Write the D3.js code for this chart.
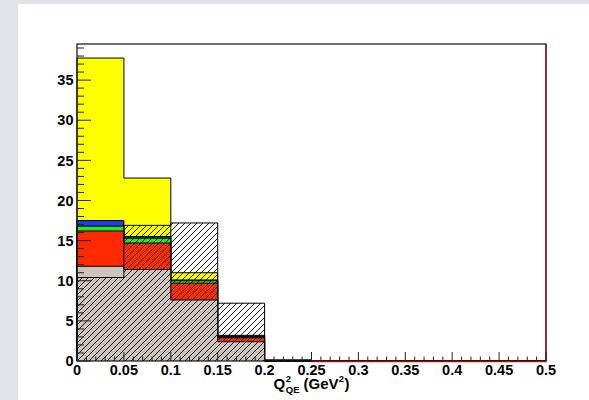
<!DOCTYPE html>
<html>
<head>
<meta charset="utf-8">
<script src="https://cdn.jsdelivr.net/npm/d3@7"></script>
<style>
  html, body { margin: 0; padding: 0; background: #e0e4e8; }
  svg { display: block; }
  text { font-family: "Liberation Sans", Arial, Helvetica, sans-serif; font-weight: bold; }
</style>
</head>
<body>
<svg id="chart" width="589" height="400"></svg>
<script>
// ---- data ----
const binLow   = [0, 0.05, 0.1, 0.15, 0.2, 0.25, 0.3, 0.35, 0.4, 0.45];
const binWidth = 0.05;
// stacked contributions (bottom to top)
const gray    = [11.8, 11.4, 7.6, 2.4, 0, 0, 0, 0, 0, 0];
const red     = [4.4, 3.3, 2.1, 0.5, 0, 0, 0, 0, 0, 0];
const green   = [0.6, 0.6, 0.3, 0.1, 0, 0, 0, 0, 0, 0];
const blue    = [0.7, 0.2, 0.1, 0.1, 0, 0, 0, 0, 0, 0];
const yellow  = [20.25, 7.3, 0.9, 0.1, 0, 0, 0, 0, 0, 0];
// hatched overlay histogram
const hatched = [10.4, 16.9, 17.2, 7.2, 0.15, 0, 0, 0, 0, 0];
// axis ticks
const xTickValues = [0, 0.05, 0.1, 0.15, 0.2, 0.25, 0.3, 0.35, 0.4, 0.45, 0.5];
const xTickLabels = ["0", "0.05", "0.1", "0.15", "0.2", "0.25", "0.3", "0.35", "0.4", "0.45", "0.5"];
const yTickValues = [0, 5, 10, 15, 20, 25, 30, 35];
const yTickLabels = ["0", "5", "10", "15", "20", "25", "30", "35"];

const layers = [
  { name: "gray",   values: gray,   color: "#ccc5bd" },
  { name: "red",    values: red,    color: "#ff2a00" },
  { name: "green",  values: green,  color: "#18f018" },
  { name: "blue",   values: blue,   color: "#1f3cf5" },
  { name: "yellow", values: yellow, color: "#ffff00" }
];

// ---- layout ----
const svg = d3.select("#chart");
svg.append("rect").attr("x", 0).attr("y", 0).attr("width", 589).attr("height", 400).attr("fill", "#e0e4e8");
svg.append("rect").attr("x", 18).attr("y", 4).attr("width", 571).attr("height", 396).attr("fill", "#ffffff");

const x = d3.scaleLinear().domain([0, 0.5]).range([77, 546]);
const y = d3.scaleLinear().domain([0, 39.5]).range([361, 44]);

// hatch pattern
const defs = svg.append("defs");
const hs = 6;
const pat = defs.append("pattern").attr("id", "hatch").attr("patternUnits", "userSpaceOnUse")
  .attr("width", hs).attr("height", hs);
pat.append("path")
  .attr("d", `M0,${hs} L${hs},0 M${-hs/2},${hs/2} L${hs/2},${-hs/2} M${hs/2},${hs*1.5} L${hs*1.5},${hs/2}`)
  .attr("stroke", "#000").attr("stroke-width", 0.9);

function stepPath(vals) {
  let p = `M${x(binLow[0])},${y(0)}`;
  vals.forEach((v, i) => {
    p += ` L${x(binLow[i])},${y(v)} L${x(binLow[i] + binWidth)},${y(v)}`;
  });
  p += ` L${x(binLow[binLow.length - 1] + binWidth)},${y(0)}`;
  return p;
}

// cumulative sums
const cum = [];
let running = binLow.map(() => 0);
layers.forEach(l => {
  running = running.map((r, i) => r + l.values[i]);
  cum.push({ color: l.color, values: running.slice() });
});

const g = svg.append("g");
// draw from the largest cumulative down (THStack style)
cum.slice().reverse().forEach(c => {
  g.append("path").attr("d", stepPath(c.values) + " Z").attr("fill", c.color).attr("stroke", "none");
  g.append("path").attr("d", stepPath(c.values)).attr("fill", "none").attr("stroke", "#000").attr("stroke-width", 1);
});

// hatched overlay
g.append("path").attr("d", stepPath(hatched) + " Z").attr("fill", "url(#hatch)").attr("stroke", "none");
g.append("path").attr("d", stepPath(hatched)).attr("fill", "none").attr("stroke", "#000").attr("stroke-width", 1);

// frame
svg.append("rect").attr("x", x(0)).attr("y", y(39.5)).attr("width", x(0.5) - x(0)).attr("height", y(0) - y(39.5))
  .attr("fill", "none").attr("stroke", "#111").attr("stroke-width", 1.2);

// red outline along bottom and right edge
svg.append("path")
  .attr("d", `M${x(0.25)},${y(0) + 0.5} L${x(0.5)},${y(0) + 0.5} L${x(0.5)},${y(39.5)}`)
  .attr("fill", "none").attr("stroke", "#a01010").attr("stroke-width", 1.3);

// y ticks (inside)
const yMinor = d3.range(0, 40, 1);
svg.append("g").selectAll("line").data(yMinor).join("line")
  .attr("x1", x(0)).attr("x2", d => x(0) + (d % 5 === 0 ? 14 : 7))
  .attr("y1", d => y(d)).attr("y2", d => y(d))
  .attr("stroke", "#222").attr("stroke-width", 1);
svg.append("g").selectAll("text").data(yTickValues).join("text")
  .attr("x", 73.5).attr("y", d => y(d)).attr("dy", "0.36em")
  .attr("text-anchor", "end").attr("font-size", 14.5).attr("fill", "#000")
  .text((d, i) => yTickLabels[i]);

// x ticks (inside)
const xMinor = d3.range(0, 51).map(i => i / 100);
svg.append("g").selectAll("line").data(xMinor).join("line")
  .attr("x1", d => x(d)).attr("x2", d => x(d))
  .attr("y1", y(0)).attr("y2", (d, i) => y(0) - (i % 5 === 0 ? 9 : 4.5))
  .attr("stroke", "#222").attr("stroke-width", 1);
svg.append("g").selectAll("text").data(xTickValues).join("text")
  .attr("x", d => x(d)).attr("y", 375)
  .attr("text-anchor", "middle").attr("font-size", 14.5).attr("fill", "#000")
  .text((d, i) => xTickLabels[i]);

// x-axis title: Q^2_QE (GeV^2)
const tg = svg.append("g");
const base = 389;
let cx = 0;
const tQ = tg.append("text").attr("x", cx).attr("y", base).attr("font-size", 15).text("Q");
cx += tQ.node().getComputedTextLength() + 0.5;
const tSup = tg.append("text").attr("x", cx).attr("y", base - 7).attr("font-size", 9.5).text("2");
const tSub = tg.append("text").attr("x", cx).attr("y", base + 4).attr("font-size", 9.5).text("QE");
cx += Math.max(tSup.node().getComputedTextLength(), tSub.node().getComputedTextLength()) + 4;
const tG = tg.append("text").attr("x", cx).attr("y", base).attr("font-size", 15).text("(GeV");
cx += tG.node().getComputedTextLength() + 0.3;
const tSup2 = tg.append("text").attr("x", cx).attr("y", base - 7).attr("font-size", 9.5).text("2");
cx += tSup2.node().getComputedTextLength() + 0.3;
const tP = tg.append("text").attr("x", cx).attr("y", base).attr("font-size", 15).text(")");
cx += tP.node().getComputedTextLength();
tg.attr("transform", `translate(${(x(0) + x(0.5)) / 2 - cx / 2},0)`);
</script>
</body>
</html>
